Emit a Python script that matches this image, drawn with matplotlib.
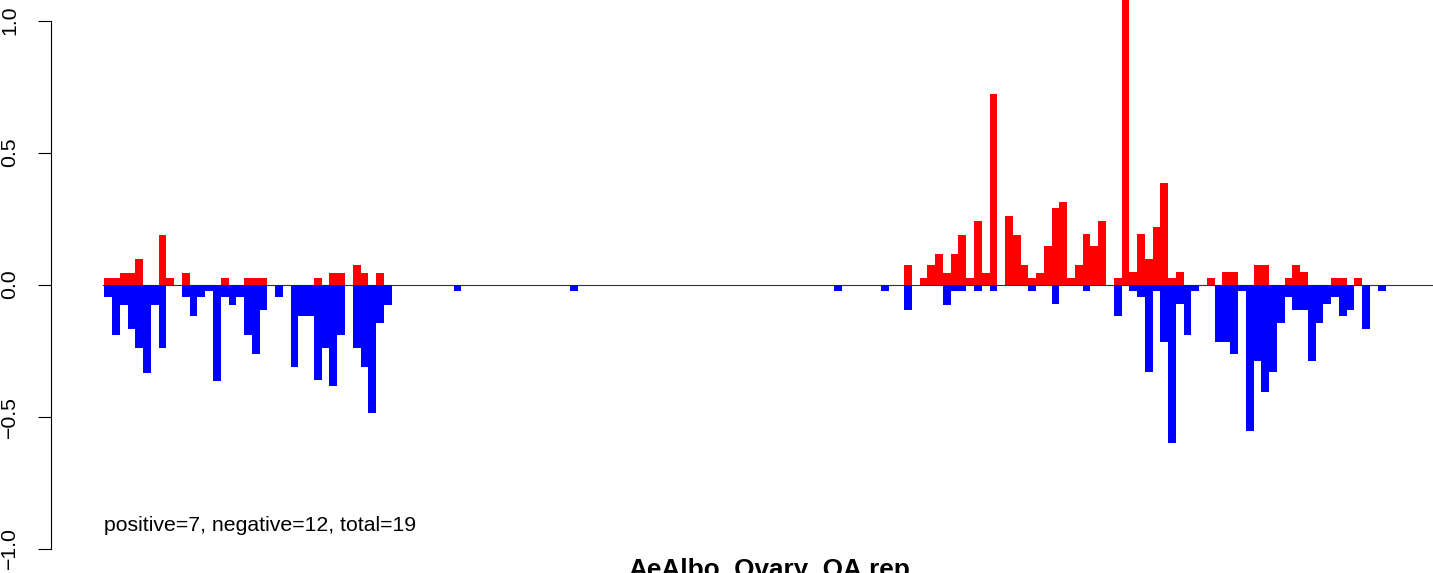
import matplotlib
matplotlib.use("Agg")
import matplotlib.pyplot as plt
import numpy as np

# bin index -> bar height (red = positive, blue = negative magnitude)
pos_idx = [0, 1, 2, 3, 4, 7, 8, 10, 15, 18, 19, 20, 27, 29, 30, 32, 33, 35,
           103, 105, 106, 107, 108, 109, 110, 111, 112, 113, 114, 116, 117, 118,
           119, 120, 121, 122, 123, 124, 125, 126, 127, 128, 130, 131, 132, 133,
           134, 135, 136, 137, 138, 142, 144, 145, 148, 149, 152, 153, 154, 158,
           159, 161]
pos_val = [0.023, 0.023, 0.045, 0.045, 0.095, 0.189, 0.023, 0.045, 0.023, 0.023,
           0.023, 0.023, 0.023, 0.045, 0.045, 0.072, 0.045, 0.045,
           0.072, 0.023, 0.072, 0.117, 0.045, 0.117, 0.189, 0.023, 0.239, 0.045,
           0.72, 0.261, 0.189, 0.072, 0.023, 0.045, 0.144, 0.289, 0.312, 0.023,
           0.073, 0.19, 0.145, 0.24, 0.023, 1.2, 0.046, 0.19, 0.097, 0.217, 0.384,
           0.023, 0.046, 0.023, 0.047, 0.047, 0.072, 0.072, 0.023, 0.072, 0.047,
           0.023, 0.023, 0.023]

neg_idx = [0, 1, 2, 3, 4, 5, 6, 7, 10, 11, 12, 13, 14, 15, 16, 17, 18, 19, 20,
           22, 24, 25, 26, 27, 28, 29, 30, 32, 33, 34, 35, 36, 45, 60, 94, 100,
           103, 108, 109, 110, 112, 114, 119, 122, 126, 130, 132, 133, 134, 135,
           136, 137, 138, 139, 140, 143, 144, 145, 146, 147, 148, 149, 150, 151,
           152, 153, 154, 155, 156, 157, 158, 159, 160, 162, 164]
neg_val = [0.048, 0.192, 0.076, 0.169, 0.241, 0.336, 0.076, 0.241, 0.048, 0.12,
           0.048, 0.025, 0.364, 0.048, 0.076, 0.048, 0.192, 0.264, 0.097,
           0.048, 0.313, 0.12, 0.12, 0.362, 0.241, 0.385, 0.192, 0.241, 0.313,
           0.485, 0.146, 0.076, 0.025, 0.025, 0.025, 0.025,
           0.098, 0.076, 0.025, 0.025, 0.025, 0.025, 0.025, 0.075, 0.025, 0.119,
           0.025, 0.047, 0.333, 0.025, 0.217, 0.6, 0.073, 0.19, 0.025, 0.217,
           0.217, 0.263, 0.025, 0.554, 0.29, 0.406, 0.333, 0.145, 0.047, 0.096,
           0.096, 0.289, 0.145, 0.072, 0.048, 0.12, 0.096, 0.169, 0.025]

n_bins = 172
label_text = "positive=7, negative=12, total=19"
title_text = "AeAlbo_Ovary_OA.rep"

plt.rcParams['font.family'] = ['Liberation Sans', 'DejaVu Sans']

W, H = 1433, 573
fig = plt.figure(figsize=(W / 100, H / 100), dpi=100)
fig.patch.set_facecolor('white')

axis_px = 50.5
x0_px = 104.3
bar_px = 7.765
zero_px = 284.5
unit_px = 264.0

ax = fig.add_axes([axis_px / W, 0, 1 - axis_px / W, 1])
ax.set_xlim((axis_px - x0_px) / bar_px, (W - x0_px) / bar_px)
ax.set_ylim((zero_px - H) / unit_px, zero_px / unit_px)

# zero line under the bars
ax.plot([-0.15, n_bins], [0, 0], color='#333333', lw=0.8, zorder=1)

ax.bar(pos_idx, pos_val, width=1.0, align='edge', color='#FF0000',
       linewidth=0, zorder=2)
ax.bar(neg_idx, [-v for v in neg_val], width=1.0, align='edge', color='#0000FF',
       linewidth=0, zorder=2)

for s in ['top', 'right', 'bottom']:
    ax.spines[s].set_visible(False)
ax.spines['left'].set_bounds(-1, 1)
ax.spines['left'].set_linewidth(0.8)
ax.set_xticks([])
ax.set_yticks([-1.0, -0.5, 0.0, 0.5, 1.0])
ax.set_yticklabels(['\u22121.0', '\u22120.5', '0.0', '0.5', '1.0'])
ax.tick_params(axis='y', length=9.4, width=0.8, pad=13, labelsize=15.3)
for lab in ax.get_yticklabels():
    lab.set_rotation(90)
    lab.set_va('center')

ax.text(0, (zero_px - 531) / unit_px, label_text, fontsize=15.3,
        ha='left', va='baseline')

# title sits partly below the picture's bottom edge, as in the source
fig.text(769 / W, 1 - 577 / H, title_text, fontsize=18.8, fontweight='bold',
         ha='center', va='baseline')

fig.savefig('out.png', dpi=100, facecolor='white')
